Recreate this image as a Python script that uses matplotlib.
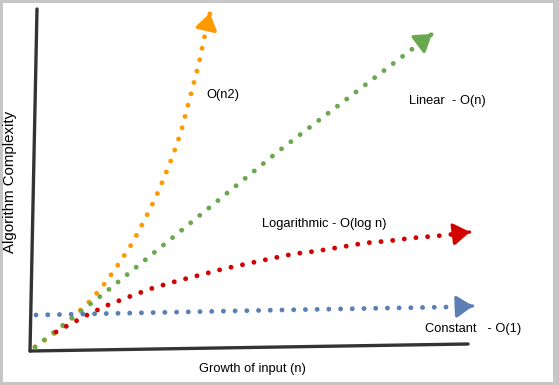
import matplotlib
matplotlib.use("Agg")
import matplotlib.pyplot as plt
import numpy as np

# ---- data (arbitrary units: input size vs complexity) ----
quad_x = [2, 22, 40, 58, 73, 87, 100, 111, 122, 131, 140, 148, 154, 160, 166, 171, 177]
quad_y = [1, 15, 31, 48, 66, 86, 106, 127, 149, 170, 193, 216, 239, 262, 285, 309, 335]

lin_x = [2, 74, 247, 391, 399]
lin_y = [1, 57, 198, 308, 314]

log_x = [23, 32, 54, 75, 98, 120, 144, 167, 190, 213, 236, 260, 284, 308, 332, 355, 379, 403, 414, 437]
log_y = [16, 21, 33, 43, 52, 60, 67, 73, 79, 84, 89, 94, 97, 101, 105, 107, 110, 112, 113, 116]

const_x = [3, 247, 417, 440]
const_y = [33, 38, 41, 42]

series = [
    ("O(n2)", quad_x, quad_y, "#ff9900"),
    ("Linear - O(n)", lin_x, lin_y, "#6aa84f"),
    ("Logarithmic - O(log n)", log_x, log_y, "#d40000"),
    ("Constant - O(1)", const_x, const_y, "#5b7fb5"),
]

# hand-drawn axis lines
yaxis_x = [-3, 4]
yaxis_y = [-3, 339]
xaxis_x = [-3, 435]
xaxis_y = [-3, 4]

W, H = 559, 385
fig = plt.figure(figsize=(W / 100, H / 100), dpi=100)
fig.patch.set_facecolor("#c6c6c6")
bg = fig.add_axes([3 / W, 3 / H, (553 - 3) / W, (382 - 3) / H])
bg.set_facecolor("white")
bg.set_xticks([]); bg.set_yticks([])
for s in bg.spines.values():
    s.set_visible(False)

ax = fig.add_axes([0, 0, 1, 1])
ax.set_facecolor("none")
ax.set_xlim(-33, W - 33)
ax.set_ylim(-37, H - 37)
ax.axis("off")

ax.plot(yaxis_x, yaxis_y, color="#333333", lw=2.4, solid_capstyle="round", zorder=1)
ax.plot(xaxis_x, xaxis_y, color="#333333", lw=2.4, solid_capstyle="round", zorder=1)

for name, xs, ys, col in series:
    ax.plot(xs, ys, color=col, lw=3.5, linestyle=(0, (0.01, 2.4)),
            dash_capstyle="round", zorder=3)
    dx = xs[-1] - xs[-2]
    dy = ys[-1] - ys[-2]
    ax.annotate("", xy=(xs[-1], ys[-1]),
                xytext=(xs[-1] - dx * 0.02, ys[-1] - dy * 0.02),
                arrowprops=dict(arrowstyle="-|>,head_length=0.9,head_width=0.6",
                                mutation_scale=11, color=col, lw=2.4,
                                joinstyle="round", shrinkA=0, shrinkB=0), zorder=4)

fam = ["Liberation Sans", "DejaVu Sans"]
fs = 9.3
ax.text(173, 253, "O(n2)", fontsize=fs, family=fam, va="center", ha="left")
ax.text(376, 247, "Linear  - O(n)", fontsize=fs, family=fam, va="center", ha="left")
ax.text(229, 124, "Logarithmic - O(log n)", fontsize=fs, family=fam, va="center", ha="left")
ax.text(392, 19, "Constant   - O(1)", fontsize=fs, family=fam, va="center", ha="left")
ax.text(219, -21, "Growth of input (n)", fontsize=fs, family=fam, va="center", ha="center")
ax.text(-23, 166, "Algorithm Complexity", fontsize=10.8, family=fam, va="center",
        ha="center", rotation=90)

fig.savefig("out.png", dpi=100, facecolor=fig.get_facecolor())
